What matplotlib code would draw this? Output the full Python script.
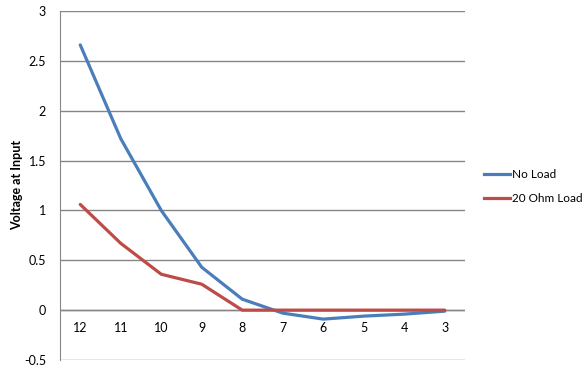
import matplotlib
matplotlib.use("Agg")
import matplotlib.pyplot as plt
from matplotlib.lines import Line2D

categories = ["12", "11", "10", "9", "8", "7", "6", "5", "4", "3"]
no_load = [2.66, 1.72, 1.0, 0.43, 0.11, -0.03, -0.09, -0.06, -0.04, -0.01]
ohm20_load = [1.06, 0.67, 0.36, 0.26, 0.0, 0.0, 0.0, 0.0, 0.0, 0.0]
series_names = ["No Load", "20 Ohm Load"]
yticks = [-0.5, 0, 0.5, 1, 1.5, 2, 2.5, 3]
ytick_labels = ["-0.5", "0", "0.5", "1", "1.5", "2", "2.5", "3"]

plt.rcParams['font.family'] = ['Lato', 'DejaVu Sans']
W, H = 587, 369
fig = plt.figure(figsize=(W / 100, H / 100), dpi=100)
ax = fig.add_axes([60 / W, (H - 360) / H, (465 - 60) / W, (360 - 11) / H])

x = list(range(len(categories)))
blue = "#4a7ebb"
red = "#be4b48"
colors = [blue, red]
for vals, col in zip([no_load, ohm20_load], colors):
    ax.plot(x, vals, color=col, lw=2.3, solid_capstyle='round', solid_joinstyle='round', zorder=3)

ax.set_xlim(-0.5, len(categories) - 0.5)
ax.set_ylim(-0.5, 3)
ax.set_yticks(yticks)
ax.set_yticklabels(ytick_labels, fontsize=9)
ax.tick_params(axis='y', length=0, pad=10)
ax.set_xticks([])
for xi, c in zip(x, categories):
    ax.text(xi, -0.18, c, ha='center', va='center', fontsize=9)

ax.grid(axis='y', color='#868686', lw=1)
ax.set_axisbelow(True)
for s in ['top', 'right', 'bottom']:
    ax.spines[s].set_visible(False)
ax.spines['left'].set_color('#868686')
ax.axhline(0, color='#868686', lw=1, zorder=1)

fig.text(17 / W, 1 - 185 / H, "Voltage at Input", rotation=90, ha='center', va='center',
         fontsize=9, fontweight='bold')

# legend drawn manually for exact placement
for i, (name, col) in enumerate(zip(series_names, colors)):
    yy = 1 - (174 + 24 * i) / H
    fig.add_artist(Line2D([484 / W, 510 / W], [yy, yy], color=col, lw=2.3,
                          transform=fig.transFigure))
    fig.text(512 / W, yy, name, ha='left', va='center', fontsize=8.5)

fig.savefig("out.png", dpi=100)
